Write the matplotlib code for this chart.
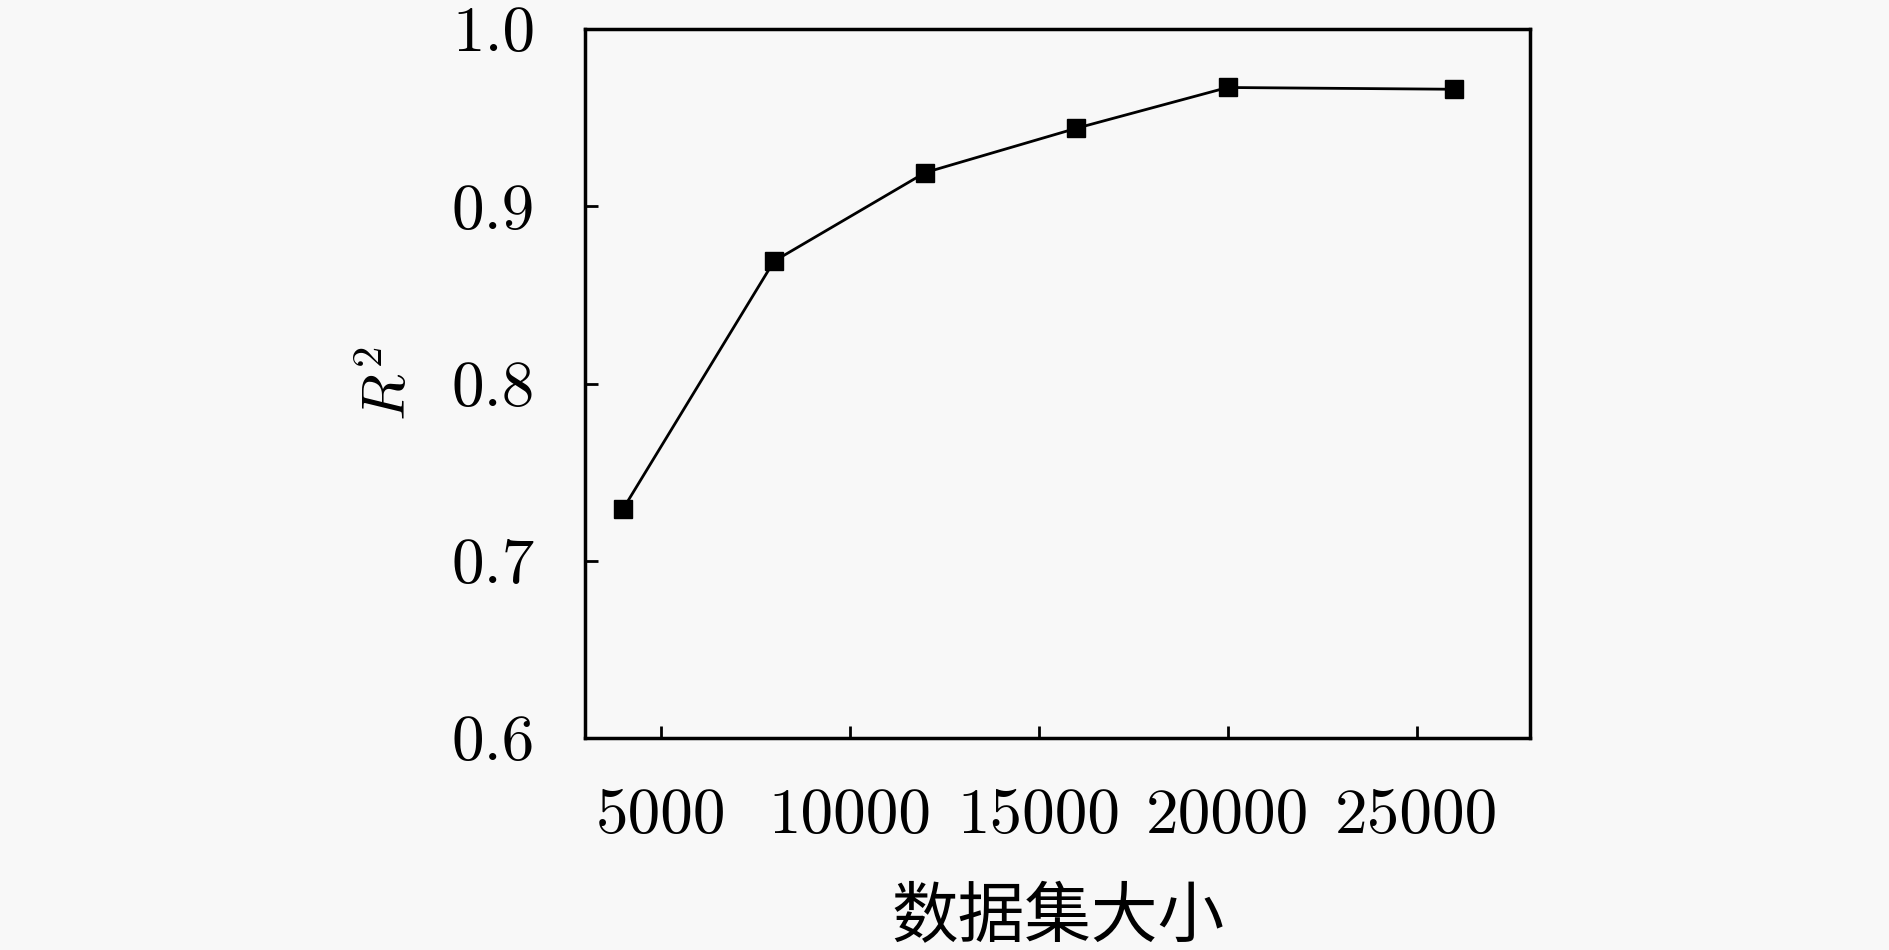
import matplotlib
matplotlib.use("Agg")
import matplotlib.pyplot as plt

sizes = [4000, 8000, 12000, 16000, 20000, 26000]
r2 = [0.729, 0.869, 0.919, 0.944, 0.967, 0.966]
xticks = [5000, 10000, 15000, 20000, 25000]
yticks = [0.6, 0.7, 0.8, 0.9, 1.0]
xlabel = "数据集大小"
ylabel = r"$R^2$"

plt.rcParams['font.family'] = ['cmr10', 'DejaVu Sans']
plt.rcParams['mathtext.fontset'] = 'cm'
plt.rcParams['axes.formatter.use_mathtext'] = True

bg = '#f8f8f8'
fig = plt.figure(figsize=(18.9, 9.5), dpi=100, facecolor=bg)
ax = fig.add_axes([585/1890, 1-738/950, (1530-585)/1890, (738-29)/950])
ax.set_facecolor(bg)

ax.plot(sizes, r2, color='black', linewidth=2.0, marker='s', markersize=13,
        markerfacecolor='black', markeredgecolor='black')

ax.set_xlim(3000, 28000)
ax.set_ylim(0.6, 1.0)
ax.set_xticks(xticks)
ax.set_xticklabels([str(v) for v in xticks])
ax.set_yticks(yticks)
ax.set_yticklabels([f"{v:.1f}" for v in yticks])

ax.tick_params(direction='in', length=9, width=2, labelsize=47, pad=36,
               top=False, right=False)
for s in ax.spines.values():
    s.set_linewidth(2.5)

ax.set_xlabel(xlabel, fontsize=48, family=['Noto Sans CJK SC'], labelpad=28)
ax.set_ylabel(ylabel, fontsize=44, labelpad=24)

fig.savefig('out.png', dpi=100, facecolor=bg)
